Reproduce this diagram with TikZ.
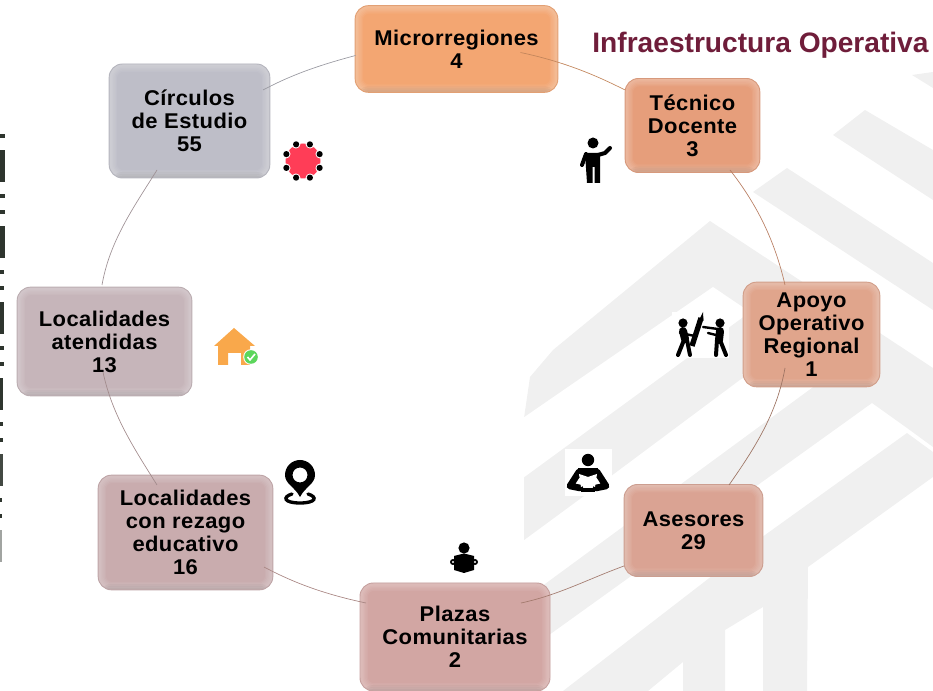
\documentclass[tikz,border=0pt]{standalone}
\usepackage{fontspec}
\setmainfont{Liberation Sans}
\newfontfamily\boxfont[LetterSpace=2.0,FakeStretch=1.03]{Liberation Sans}
\definecolor{wm}{HTML}{F0F0F0}
\definecolor{cMicro}{HTML}{F3A672}
\definecolor{cTec}{HTML}{E69E7B}
\definecolor{cApo}{HTML}{E0A58C}
\definecolor{cAse}{HTML}{DAA393}
\definecolor{cPla}{HTML}{D2A6A3}
\definecolor{cRez}{HTML}{C9ACAE}
\definecolor{cAte}{HTML}{C6B5BA}
\definecolor{cCir}{HTML}{BEBEC8}
\definecolor{titlecol}{HTML}{6F1D3A}
\definecolor{edgemark}{HTML}{2E352E}
\definecolor{starred}{HTML}{FF3D57}
\definecolor{houseor}{HTML}{F9A84B}
\tikzset{
  x=0.75pt,y=0.75pt,
  box/.style={rounded corners=10pt,fill=#1,draw=#1!85!gray,line width=.7pt,
    align=center,inner sep=0pt,font=\boxfont\bfseries\fontsize{16}{17.25}\selectfont,text=black,
    path picture={
      \foreach \lw in {2,4,...,12}{
        \draw[white,opacity=.055,line width=\lw pt,rounded corners=10pt]
          (path picture bounding box.south west) rectangle (path picture bounding box.north east);
      }
      \foreach \lw in {1.5,3,4.5}{
        \fill[black,opacity=.035] (path picture bounding box.south west) rectangle ([yshift=\lw pt]path picture bounding box.south east);
      }
    }},
  conn/.style={line width=.5pt,draw=#1,looseness=.9},
  limb/.style={draw=black,line cap=round,line join=round}
}
\begin{document}
\begin{tikzpicture}
\useasboundingbox (0,-691) rectangle (933,0);
% watermark
\fill[wm] (912,-75) -- (933,-72) -- (933,-88) -- cycle;
\fill[wm] (833,-135) -- (865,-110) -- (933,-150) -- (933,-200) -- cycle;
\fill[wm] (753,-192) -- (787,-168) -- (933,-263) -- (933,-310) -- cycle;
\fill[wm] (524,-418) -- (530,-377) -- (553,-350) -- (710,-221) -- (933,-368) -- (933,-447) -- (907,-428) -- (872,-403) -- (524,-653) -- cycle;
\fill[white] (523,-418) -- (713,-287) -- (750,-312) -- (523,-478) -- cycle;
\fill[white] (523,-541) -- (610,-477) -- (740,-380) -- (790,-350) -- (813,-387) -- (523,-600) -- cycle;
\fill[wm] (933,-477) -- (808,-567) -- (807,-691) -- (763,-691) -- (763,-607) -- (725,-630) -- (725,-691) -- (683,-691) -- (683,-662) -- (648,-691) -- (563,-691) -- (765,-535) -- (907,-433) -- (933,-452) -- cycle;
% left-edge marks
\foreach \yy/\w in {136/5,196/4.5,212/4.5,272/4,288/4,348/3.5,364/3.5,424/3,440/3,500/2,516/2}
  \fill[edgemark] (0,-\yy+2) rectangle (\w,-\yy-2);
\foreach \yy/\w/\c in {150/5/100,226/4.5/100,302/4/100,378/3/100,454/2.5/90,530/2/45}
  \fill[edgemark!\c!white] (0,-\yy) rectangle (\w,-\yy-32);
% title
\node[font=\bfseries\fontsize{21.1}{24}\selectfont,text=titlecol,inner sep=0pt] (title) at (760.5,-45.5) {Infraestructura Operativa};
% boxes
\node[box=cMicro,minimum width=152pt,minimum height=65pt] (micro) at (456.5,-49) {Microrregiones\\4};
\node[box=cTec,minimum width=101pt,minimum height=70.5pt] (tec) at (692.5,-125.5) {Técnico\\Docente\\3};
\node[box=cApo,minimum width=102.5pt,minimum height=78.5pt] (apo) at (811.5,-334.5) {Apoyo\\Operativo\\Regional\\1};
\node[box=cAse,minimum width=104pt,minimum height=69pt] (ase) at (693.5,-530.5) {Asesores\\29};
\node[box=cPla,minimum width=142.5pt,minimum height=81pt] (pla) at (455,-637) {Plazas\\Comunitarias\\2};
\node[box=cRez,minimum width=131pt,minimum height=86pt] (rez) at (185.5,-532.5) {Localidades\\con rezago\\educativo\\16};
\node[box=cAte,minimum width=131pt,minimum height=81.5pt] (ate) at (104.5,-341.5) {Localidades\\atendidas\\13};
\node[box=cCir,minimum width=120.5pt,minimum height=85.5pt] (cir) at (189.5,-121) {Círculos\\de Estudio\\55};
% connectors
\draw[conn=cMicro!80!black] ([shift={(64,-3.5)}]micro.center) to[out=-12,in=153] ([shift={(-67.5,35.5)}]tec.center);
\draw[conn=cTec!80!black] ([shift={(37.5,-44.5)}]tec.center) to[out=-52,in=103] ([shift={(-26.5,49.5)}]apo.center);
\draw[conn=cApo!70!black] ([shift={(-26.5,-33.5)}]apo.center) to[out=-100,in=55] ([shift={(35.5,45.5)}]ase.center);
\draw[conn=cAse!75!black] ([shift={(-69.5,-35.5)}]ase.center) to[out=200,in=12] ([shift={(66,34)}]pla.center);
\draw[conn=cPla!80!black] ([shift={(-89,34)}]pla.center) to[out=168,in=-28] ([shift={(78.5,-34.5)}]rez.center);
\draw[conn=cRez!80!black] ([shift={(-28.5,47.5)}]rez.center) to[out=122,in=-78] ([shift={(-1.5,-30.5)}]ate.center);
\draw[conn=cAte!80!black] ([shift={(-2.5,56.5)}]ate.center) to[out=80,in=-122] ([shift={(-32.5,-49)}]cir.center);
\draw[conn=cCir!80!black] ([shift={(73.5,31)}]cir.center) to[out=28,in=-165] ([shift={(-101,-6.5)}]micro.center);
% teacher icon
\fill[black] (593,-143) circle (5.5);
\fill[black] (585,-153) -- (600,-153) -- (600,-183) -- (594.5,-183) -- (594.5,-167) -- (592.5,-167) -- (592.5,-183) -- (587,-183) -- cycle;
\draw[limb,line width=3pt] (598,-155) -- (605,-153) -- (610,-148);
\draw[limb,line width=3pt] (586,-154) -- (582,-165);
% star icon
\fill[starred] (303,-161) circle (17.5);
\foreach \a in {22.5,67.5,...,337.5}{
  \fill[white] (303,-161)++(\a:18.5) circle (4.6);
  \fill[black] (303,-161)++(\a:18) circle (3.1);
}
% house icon
\fill[houseor] (234,-328) -- (255,-346) -- (250,-346) -- (250,-365) -- (241,-365) -- (241,-353) -- (228,-353) -- (228,-365) -- (218,-365) -- (218,-346) -- (214,-346) -- cycle;
\fill[white] (251,-357) circle (7.8);
\fill[green!60!gray!80!white] (251,-357) circle (6.8);
\draw[white,line width=1.2pt] (247.5,-357) -- (250,-360) -- (255,-354);
% pin icon
\fill[black,even odd rule] (300,-497) .. controls (295,-487) and (285,-484) .. (285,-475) arc (180:0:15) .. controls (315,-484) and (305,-487) .. (300,-497) -- cycle (300,-475) circle (7.5);
\draw[black,line width=2.5pt,line cap=round] (292,-494) .. controls (282,-497) and (284,-503) .. (300,-503) .. controls (316,-503) and (318,-497) .. (308,-494);
% reader icon
\fill[black] (464,-548) circle (5.6);
\fill[black] (454,-556) -- (464,-553.5) -- (474,-556) -- (474,-570) -- (464,-573) -- (454,-570) -- cycle;
\fill[black] (453,-562) circle (3);
\fill[black] (475,-562) circle (3);
\fill[white] (453,-562) circle (1.1);
\fill[white] (475,-562) circle (1.1);
% asesor icon
\fill[white] (565,-449) rectangle (612,-496);
\fill[black] (588,-460) circle (6.2);
\fill[black] (578,-468) -- (598,-468) -- (598,-478) -- (578,-478) -- cycle;
\draw[limb,line width=5pt] (579,-472) -- (570,-486) -- (580,-488);
\draw[limb,line width=5pt] (597,-472) -- (606,-486) -- (596,-488);
\fill[black] (581,-488) rectangle (595,-492);
\fill[white] (579,-474) -- (588,-477) -- (597,-474) -- (595,-487) -- (590,-485) -- (586,-485) -- (581,-487) -- cycle;
% two-people icon
\fill[white] (672,-312) rectangle (729,-358);
\fill[black] (683,-323) circle (4.6);
\fill[black] (720,-323) circle (4.6);
\draw[limb,line width=6pt] (683,-331) -- (685,-339);
\draw[limb,line width=6pt] (720,-331) -- (719,-340);
\draw[limb,line width=3pt] (684,-340) -- (678,-355);
\draw[limb,line width=3pt] (687,-340) -- (690,-355);
\draw[limb,line width=3pt] (717,-340) -- (716,-355);
\draw[limb,line width=3pt] (720,-340) -- (726,-355);
\draw[limb,line width=4pt,line cap=butt] (692,-346) -- (701,-318);
\fill[black] (699,-320) -- (703.5,-321) -- (703,-312) -- cycle;
\draw[limb,line width=1.8pt] (703,-327) -- (718,-329);
\draw[limb,line width=1.8pt] (680,-333) -- (695,-336);
\draw[limb,line width=1.8pt] (708,-333) -- (720,-336);
\end{tikzpicture}
\end{document}
